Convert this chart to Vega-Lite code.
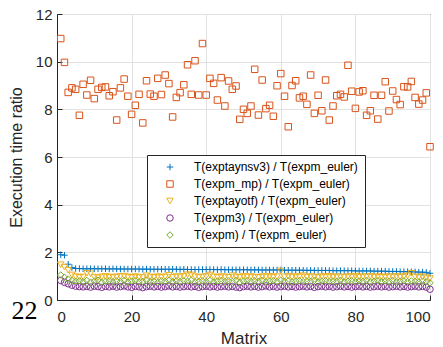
{
  "$schema": "https://vega.github.io/schema/vega-lite/v6.json",
  "width": 373,
  "height": 286,
  "autosize": {"type": "none"},
  "padding": {"left": 57, "top": 14, "right": 13, "bottom": 47},
  "background": "white",
  "config": {
    "view": {"stroke": "#262626", "strokeWidth": 1},
    "font": "Liberation Sans",
    "axis": {
      "labelFont": "Liberation Sans",
      "titleFont": "Liberation Sans",
      "labelColor": "#262626",
      "titleColor": "#262626",
      "domainColor": "#262626",
      "tickColor": "#262626",
      "gridColor": "#e2e2e2",
      "gridOpacity": 1,
      "labelFontSize": 15,
      "titleFontSize": 17,
      "titleFontWeight": "normal"
    }
  },
  "data": {
    "values": [
      {"m":1,"a":1.90,"b":10.97,"c":1.48,"d":0.82,"e":1.05},
      {"m":2,"a":1.88,"b":9.97,"c":1.38,"d":0.74,"e":0.95},
      {"m":3,"a":1.50,"b":8.71,"c":1.25,"d":0.68,"e":0.88},
      {"m":4,"a":1.36,"b":8.90,"c":1.05,"d":0.62,"e":0.82},
      {"m":5,"a":1.32,"b":8.84,"c":0.98,"d":0.58,"e":0.78},
      {"m":6,"a":1.32,"b":7.75,"c":0.95,"d":0.56,"e":0.80},
      {"m":7,"a":1.31,"b":9.05,"c":0.97,"d":0.55,"e":0.76},
      {"m":8,"a":1.31,"b":8.60,"c":1.12,"d":0.57,"e":0.82},
      {"m":9,"a":1.31,"b":9.22,"c":1.10,"d":0.54,"e":0.75},
      {"m":10,"a":1.31,"b":8.45,"c":0.96,"d":0.58,"e":0.79},
      {"m":11,"a":1.31,"b":8.84,"c":0.94,"d":0.56,"e":0.83},
      {"m":12,"a":1.31,"b":8.92,"c":0.97,"d":0.53,"e":0.74},
      {"m":13,"a":1.31,"b":8.94,"c":0.99,"d":0.57,"e":0.78},
      {"m":14,"a":1.30,"b":8.57,"c":0.95,"d":0.55,"e":0.81},
      {"m":15,"a":1.31,"b":8.74,"c":0.97,"d":0.58,"e":0.76},
      {"m":16,"a":1.30,"b":7.55,"c":0.96,"d":0.54,"e":0.80},
      {"m":17,"a":1.30,"b":8.90,"c":0.99,"d":0.56,"e":0.77},
      {"m":18,"a":1.30,"b":9.27,"c":1.00,"d":0.59,"e":0.82},
      {"m":19,"a":1.30,"b":8.55,"c":0.97,"d":0.55,"e":0.75},
      {"m":20,"a":1.30,"b":7.79,"c":0.95,"d":0.53,"e":0.79},
      {"m":21,"a":1.30,"b":8.17,"c":0.98,"d":0.57,"e":0.81},
      {"m":22,"a":1.30,"b":8.63,"c":0.96,"d":0.55,"e":0.76},
      {"m":23,"a":1.29,"b":7.43,"c":0.94,"d":0.52,"e":0.78},
      {"m":24,"a":1.30,"b":9.20,"c":1.02,"d":0.56,"e":0.83},
      {"m":25,"a":1.29,"b":8.64,"c":0.97,"d":0.58,"e":0.77},
      {"m":26,"a":1.29,"b":8.55,"c":0.95,"d":0.55,"e":0.79},
      {"m":27,"a":1.29,"b":9.30,"c":0.98,"d":0.57,"e":0.74},
      {"m":28,"a":1.29,"b":8.62,"c":0.96,"d":0.54,"e":0.80},
      {"m":29,"a":1.29,"b":9.44,"c":0.97,"d":0.56,"e":0.78},
      {"m":30,"a":1.29,"b":9.08,"c":1.04,"d":0.59,"e":0.82},
      {"m":31,"a":1.29,"b":7.68,"c":0.96,"d":0.55,"e":0.76},
      {"m":32,"a":1.29,"b":8.50,"c":0.98,"d":0.57,"e":0.80},
      {"m":33,"a":1.28,"b":8.70,"c":0.97,"d":0.54,"e":0.77},
      {"m":34,"a":1.29,"b":9.03,"c":0.99,"d":0.56,"e":0.81},
      {"m":35,"a":1.28,"b":9.87,"c":1.06,"d":0.58,"e":0.79},
      {"m":36,"a":1.28,"b":8.63,"c":1.05,"d":0.55,"e":0.83},
      {"m":37,"a":1.28,"b":10.04,"c":0.98,"d":0.57,"e":0.76},
      {"m":38,"a":1.28,"b":8.60,"c":0.96,"d":0.53,"e":0.78},
      {"m":39,"a":1.28,"b":10.76,"c":0.97,"d":0.56,"e":0.80},
      {"m":40,"a":1.28,"b":8.60,"c":0.99,"d":0.58,"e":0.77},
      {"m":41,"a":1.28,"b":9.30,"c":1.05,"d":0.55,"e":0.82},
      {"m":42,"a":1.28,"b":9.09,"c":0.97,"d":0.57,"e":0.75},
      {"m":43,"a":1.27,"b":8.39,"c":0.96,"d":0.54,"e":0.79},
      {"m":44,"a":1.28,"b":9.33,"c":0.98,"d":0.56,"e":0.81},
      {"m":45,"a":1.27,"b":8.14,"c":0.97,"d":0.58,"e":0.77},
      {"m":46,"a":1.27,"b":9.19,"c":0.95,"d":0.55,"e":0.80},
      {"m":47,"a":1.27,"b":8.84,"c":1.02,"d":0.57,"e":0.78},
      {"m":48,"a":1.27,"b":8.98,"c":0.97,"d":0.54,"e":0.82},
      {"m":49,"a":1.27,"b":7.58,"c":0.96,"d":0.52,"e":0.74},
      {"m":50,"a":1.27,"b":8.00,"c":0.99,"d":0.56,"e":0.79},
      {"m":51,"a":1.27,"b":7.83,"c":0.97,"d":0.58,"e":0.81},
      {"m":52,"a":1.26,"b":8.14,"c":0.98,"d":0.55,"e":0.77},
      {"m":53,"a":1.27,"b":9.68,"c":0.96,"d":0.57,"e":0.80},
      {"m":54,"a":1.26,"b":7.76,"c":0.95,"d":0.54,"e":0.78},
      {"m":55,"a":1.26,"b":9.23,"c":0.98,"d":0.56,"e":0.82},
      {"m":56,"a":1.26,"b":8.03,"c":0.97,"d":0.59,"e":0.76},
      {"m":57,"a":1.26,"b":8.17,"c":0.99,"d":0.55,"e":0.79},
      {"m":58,"a":1.26,"b":7.71,"c":0.96,"d":0.57,"e":0.81},
      {"m":59,"a":1.26,"b":8.99,"c":0.98,"d":0.54,"e":0.77},
      {"m":60,"a":1.26,"b":9.50,"c":1.22,"d":0.56,"e":0.83},
      {"m":61,"a":1.25,"b":8.55,"c":0.97,"d":0.58,"e":0.78},
      {"m":62,"a":1.25,"b":7.27,"c":1.00,"d":0.55,"e":0.80},
      {"m":63,"a":1.25,"b":9.00,"c":0.96,"d":0.57,"e":0.76},
      {"m":64,"a":1.25,"b":9.20,"c":0.98,"d":0.54,"e":0.79},
      {"m":65,"a":1.25,"b":8.48,"c":0.97,"d":0.56,"e":0.81},
      {"m":66,"a":1.25,"b":8.55,"c":1.02,"d":0.58,"e":0.77},
      {"m":67,"a":1.24,"b":8.21,"c":0.96,"d":0.55,"e":0.80},
      {"m":68,"a":1.25,"b":9.44,"c":0.98,"d":0.57,"e":0.78},
      {"m":69,"a":1.24,"b":7.83,"c":0.97,"d":0.53,"e":0.82},
      {"m":70,"a":1.24,"b":8.59,"c":0.95,"d":0.56,"e":0.76},
      {"m":71,"a":1.24,"b":7.94,"c":0.98,"d":0.58,"e":0.79},
      {"m":72,"a":1.24,"b":9.23,"c":0.97,"d":0.55,"e":0.81},
      {"m":73,"a":1.24,"b":7.55,"c":0.99,"d":0.57,"e":0.77},
      {"m":74,"a":1.23,"b":8.14,"c":0.96,"d":0.54,"e":0.80},
      {"m":75,"a":1.23,"b":8.57,"c":0.98,"d":0.56,"e":0.78},
      {"m":76,"a":1.23,"b":8.63,"c":0.97,"d":0.58,"e":0.82},
      {"m":77,"a":1.23,"b":8.52,"c":0.96,"d":0.55,"e":0.76},
      {"m":78,"a":1.23,"b":9.85,"c":0.98,"d":0.57,"e":0.79},
      {"m":79,"a":1.23,"b":8.76,"c":0.97,"d":0.54,"e":0.81},
      {"m":80,"a":1.22,"b":8.04,"c":1.00,"d":0.56,"e":0.77},
      {"m":81,"a":1.22,"b":8.73,"c":0.96,"d":0.58,"e":0.80},
      {"m":82,"a":1.22,"b":8.78,"c":0.98,"d":0.55,"e":0.78},
      {"m":83,"a":1.22,"b":7.75,"c":0.97,"d":0.57,"e":0.82},
      {"m":84,"a":1.22,"b":7.94,"c":0.99,"d":0.54,"e":0.76},
      {"m":85,"a":1.21,"b":8.59,"c":0.96,"d":0.56,"e":0.79},
      {"m":86,"a":1.21,"b":7.59,"c":0.98,"d":0.58,"e":0.81},
      {"m":87,"a":1.21,"b":8.59,"c":0.97,"d":0.55,"e":0.77},
      {"m":88,"a":1.21,"b":9.16,"c":0.96,"d":0.57,"e":0.80},
      {"m":89,"a":1.20,"b":7.93,"c":0.98,"d":0.54,"e":0.78},
      {"m":90,"a":1.20,"b":8.77,"c":0.97,"d":0.56,"e":0.82},
      {"m":91,"a":1.20,"b":8.41,"c":0.99,"d":0.58,"e":0.76},
      {"m":92,"a":1.19,"b":8.20,"c":0.96,"d":0.55,"e":0.79},
      {"m":93,"a":1.19,"b":8.95,"c":0.98,"d":0.57,"e":0.81},
      {"m":94,"a":1.19,"b":8.94,"c":1.02,"d":0.54,"e":0.77},
      {"m":95,"a":1.18,"b":9.17,"c":1.12,"d":0.56,"e":0.80},
      {"m":96,"a":1.18,"b":8.50,"c":0.97,"d":0.58,"e":0.78},
      {"m":97,"a":1.17,"b":8.22,"c":0.96,"d":0.55,"e":0.75},
      {"m":98,"a":1.17,"b":8.39,"c":0.98,"d":0.57,"e":0.79},
      {"m":99,"a":1.16,"b":8.69,"c":0.94,"d":0.54,"e":0.76},
      {"m":100,"a":1.12,"b":6.43,"c":0.90,"d":0.45,"e":0.72}
    ]
  },
  "transform": [{"fold": ["a", "b", "c", "d", "e"], "as": ["series", "ratio"]}],
  "layer": [
    {
      "mark": {"type": "point", "filled": false, "strokeWidth": 1, "size": 42, "opacity": 1, "clip": false},
      "encoding": {
        "x": {
          "field": "m", "type": "quantitative",
          "scale": {"domain": [0, 100], "nice": false, "zero": false},
          "axis": {"title": "Matrix", "values": [0, 20, 40, 60, 80, 100], "tickSize": -5, "labelPadding": 14, "titlePadding": 6, "grid": true}
        },
        "y": {
          "field": "ratio", "type": "quantitative",
          "scale": {"domain": [0, 12], "nice": false},
          "axis": {"title": "Execution time ratio", "titleFontSize": 16, "values": [0, 2, 4, 6, 8, 10, 12], "tickSize": -5, "labelPadding": 10, "titlePadding": 11, "grid": true}
        },
        "color": {
          "field": "series", "type": "nominal",
          "scale": {"domain": ["a", "b", "c", "d", "e"], "range": ["#0072BD", "#D95319", "#EDB120", "#7E2F8E", "#77AC30"]},
          "legend": {
            "title": null,
            "orient": "none",
            "legendX": 90,
            "legendY": 141,
            "padding": 6,
            "strokeColor": "#262626",
            "fillColor": "white",
            "labelFont": "Liberation Sans",
            "labelFontSize": 12,
            "labelColor": "#000000",
            "symbolSize": 42,
            "symbolStrokeWidth": 1,
            "symbolOpacity": 1,
            "symbolOffset": 11,
            "labelOffset": 18,
            "rowPadding": 5,
            "labelLimit": 300,
            "labelExpr": "{'a': 'T(exptaynsv3) / T(expm_euler)', 'b': 'T(expm_mp) / T(expm_euler)', 'c': 'T(exptayotf) / T(expm_euler)', 'd': 'T(expm3) / T(expm_euler)', 'e': 'T(expm) / T(expm_euler)'}[datum.label]"
          }
        },
        "shape": {
          "field": "series", "type": "nominal",
          "scale": {"domain": ["a", "b", "c", "d", "e"], "range": ["M-1,0H1M0,-1V1", "square", "triangle-down", "circle", "diamond"]}
        },
        "order": {"field": "series", "type": "nominal"}
      }
    },
    {
      "data": {"values": [{"px": -8.7, "py": -0.45, "t": "22"}]},
      "transform": [],
      "mark": {"type": "text", "font": "Liberation Serif", "fontSize": 26, "color": "#000000", "align": "center", "baseline": "middle", "clip": false},
      "encoding": {
        "x": {"field": "px", "type": "quantitative"},
        "y": {"field": "py", "type": "quantitative"},
        "text": {"field": "t"}
      }
    }
  ]
}
